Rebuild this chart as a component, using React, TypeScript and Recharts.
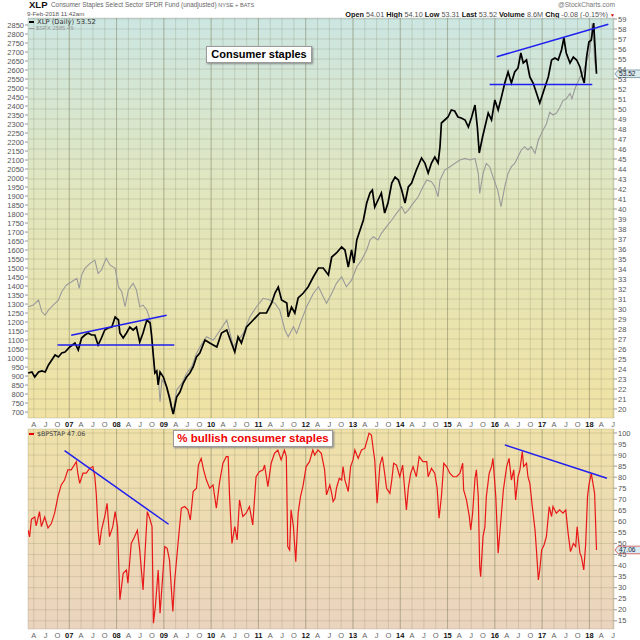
import React from "react";
import { CartesianGrid, Line, LineChart, ReferenceLine, XAxis, YAxis } from "recharts";

// XLP daily (unadjusted), sampled by eye from the chart
const xlpDates = [
  2006.13, 2006.21, 2006.27, 2006.35, 2006.42, 2006.49, 2006.56, 2006.63, 2006.7, 2006.77, 2006.84, 2006.91,
  2007.01, 2007.12, 2007.19, 2007.26, 2007.33, 2007.4, 2007.47, 2007.54, 2007.61, 2007.68, 2007.75, 2007.82,
  2007.9, 2007.97, 2008.04, 2008.07, 2008.14, 2008.21, 2008.28, 2008.35, 2008.42, 2008.49, 2008.56, 2008.64,
  2008.71, 2008.74, 2008.78, 2008.81, 2008.85, 2008.88, 2008.92, 2008.99, 2009.06, 2009.13, 2009.16, 2009.2,
  2009.27, 2009.34, 2009.41, 2009.48, 2009.55, 2009.62, 2009.69, 2009.76, 2009.87, 2009.97, 2010.12, 2010.22,
  2010.33, 2010.43, 2010.5, 2010.57, 2010.64, 2010.75, 2010.89, 2011.03, 2011.17, 2011.28, 2011.35, 2011.42,
  2011.49, 2011.6, 2011.63, 2011.7, 2011.77, 2011.84, 2011.95, 2012.05, 2012.16, 2012.27, 2012.37, 2012.48,
  2012.55, 2012.65, 2012.76, 2012.83, 2012.9, 2012.97, 2013.02, 2013.08, 2013.15, 2013.22, 2013.29, 2013.36,
  2013.41, 2013.46, 2013.53, 2013.6, 2013.67, 2013.74, 2013.82, 2013.89, 2013.96, 2014.03, 2014.1, 2014.17,
  2014.24, 2014.34, 2014.45, 2014.52, 2014.59, 2014.66, 2014.73, 2014.8, 2014.84, 2014.87, 2014.94, 2015.01,
  2015.08, 2015.15, 2015.22, 2015.29, 2015.37, 2015.44, 2015.51, 2015.58, 2015.63, 2015.67, 2015.74, 2015.79,
  2015.86, 2015.93, 2016.0, 2016.07, 2016.14, 2016.21, 2016.28, 2016.35, 2016.42, 2016.49, 2016.55, 2016.6,
  2016.67, 2016.74, 2016.81, 2016.88, 2016.95, 2017.06, 2017.13, 2017.2, 2017.27, 2017.34, 2017.41, 2017.46,
  2017.51, 2017.59, 2017.66, 2017.73, 2017.8, 2017.85, 2017.89, 2017.94, 2017.99, 2018.04, 2018.09, 2018.11,
  2018.15,
];
const xlpClose = [
  23.6, 23.7, 23.2, 23.7, 23.8, 23.7, 24.4, 24.9, 25.4, 25.2, 25.6, 25.7,
  26.2, 26.6, 25.9, 27.1, 27.4, 27.6, 27.4, 27.4, 26.4, 27.1, 27.9, 28.1,
  28.2, 29.2, 28.9, 27.6, 27.1, 27.6, 28.2, 27.9, 28.2, 26.7, 27.6, 28.9,
  28.6, 27.4, 25.2, 23.6, 23.8, 22.4, 23.7, 23.2, 22.2, 20.9, 20.2, 19.5,
  21.2, 21.7, 22.6, 23.2, 23.6, 24.2, 25.2, 25.6, 26.9, 26.6, 26.2, 27.6,
  27.9, 26.6, 25.7, 27.2, 26.6, 28.2, 28.9, 29.6, 29.6, 30.6, 31.6, 32.2,
  30.9, 30.6, 29.2, 30.2, 29.6, 31.1, 31.6, 32.2, 33.2, 34.1, 34.1, 33.4,
  35.2, 35.6, 36.2, 35.9, 34.2, 35.9, 34.6, 36.9, 37.9, 38.9, 40.6, 41.6,
  41.9, 40.2, 40.9, 41.6, 39.6, 40.6, 42.6, 43.2, 42.9, 41.9, 40.6, 42.2,
  42.6, 43.9, 45.1, 44.6, 43.6, 44.6, 45.2, 44.6, 46.2, 48.6, 48.9, 49.2,
  49.9, 49.8, 49.2, 49.1, 48.9, 48.2, 49.2, 50.4, 48.2, 45.6, 47.2, 48.2,
  49.6, 48.9, 50.9, 49.9, 51.2, 52.6, 53.7, 52.6, 53.7, 54.1, 55.6, 54.6,
  54.9, 53.2, 52.6, 51.6, 50.6, 52.2, 53.2, 54.9, 55.1, 54.9, 55.9, 57.1,
  55.6, 54.6, 55.2, 54.9, 54.2, 53.2, 52.6, 55.2, 56.7, 56.9, 58.6, 56.9,
  53.52,
];

// $SPX overlay
const spxDates = [
  2006.13, 2006.24, 2006.35, 2006.42, 2006.49, 2006.56, 2006.66, 2006.77, 2006.84, 2006.94, 2007.05, 2007.16,
  2007.21, 2007.26, 2007.33, 2007.44, 2007.54, 2007.61, 2007.68, 2007.78, 2007.86, 2007.97, 2008.04, 2008.11,
  2008.18, 2008.25, 2008.35, 2008.42, 2008.49, 2008.56, 2008.64, 2008.71, 2008.76, 2008.81, 2008.88, 2008.92,
  2008.96, 2009.06, 2009.13, 2009.19, 2009.27, 2009.38, 2009.48, 2009.59, 2009.69, 2009.76, 2009.9, 2010.05,
  2010.19, 2010.33, 2010.4, 2010.47, 2010.57, 2010.68, 2010.82, 2010.96, 2011.1, 2011.24, 2011.35, 2011.45,
  2011.56, 2011.63, 2011.74, 2011.81, 2011.91, 2012.02, 2012.16, 2012.27, 2012.37, 2012.44, 2012.55, 2012.65,
  2012.76, 2012.86, 2012.97, 2013.08, 2013.18, 2013.29, 2013.36, 2013.43, 2013.53, 2013.6, 2013.71, 2013.82,
  2013.92, 2014.03, 2014.1, 2014.17, 2014.27, 2014.38, 2014.48, 2014.56, 2014.66, 2014.73, 2014.8, 2014.84,
  2014.94, 2015.05, 2015.15, 2015.26, 2015.37, 2015.47, 2015.58, 2015.65, 2015.68, 2015.75, 2015.82, 2015.89,
  2015.96, 2016.06, 2016.13, 2016.21, 2016.28, 2016.35, 2016.42, 2016.49, 2016.56, 2016.63, 2016.7, 2016.77,
  2016.85, 2016.92, 2017.02, 2017.09, 2017.16, 2017.23, 2017.3, 2017.37, 2017.44, 2017.51, 2017.59, 2017.63,
  2017.7, 2017.8, 2017.87, 2017.94, 2018.01, 2018.06, 2018.09, 2018.11, 2018.15,
];
const spxClose = [
  1285, 1294, 1322, 1257, 1239, 1267, 1294, 1322, 1368, 1406, 1424, 1443,
  1387, 1461, 1498, 1526, 1544, 1470, 1489, 1554, 1517, 1498, 1396, 1368,
  1285, 1378, 1415, 1378, 1285, 1294, 1267, 1211, 1063, 933, 896, 757,
  880, 841, 785, 690, 822, 859, 915, 952, 1026, 1060, 1118, 1100,
  1156, 1211, 1137, 1063, 1100, 1137, 1230, 1285, 1332, 1322, 1304, 1267,
  1156, 1118, 1174, 1137, 1211, 1285, 1359, 1396, 1341, 1304, 1359, 1415,
  1452, 1396, 1433, 1507, 1544, 1600, 1656, 1674, 1656, 1693, 1730, 1767,
  1804, 1841, 1804, 1822, 1859, 1896, 1952, 1989, 1980, 1952, 1896, 1989,
  2044, 2063, 2081, 2100, 2109, 2100, 2109, 2026, 1915, 2026, 2081, 2063,
  2007, 1933, 1841, 1952, 2026, 2063, 2081, 2118, 2156, 2174, 2156, 2174,
  2137, 2211, 2267, 2300, 2365, 2350, 2360, 2390, 2430, 2440, 2470, 2440,
  2500, 2560, 2590, 2650, 2700, 2860, 2760, 2650, 2585,
];

// $BPSTAP bullish percent, consumer staples
const bpDates = [
  2006.13, 2006.16, 2006.2, 2006.27, 2006.3, 2006.37, 2006.41, 2006.48, 2006.55, 2006.62, 2006.69, 2006.76,
  2006.83, 2006.9, 2006.97, 2007.04, 2007.15, 2007.18, 2007.22, 2007.29, 2007.36, 2007.43, 2007.5, 2007.54,
  2007.57, 2007.61, 2007.64, 2007.68, 2007.75, 2007.8, 2007.85, 2007.92, 2007.97, 2008.02, 2008.07, 2008.14,
  2008.21, 2008.24, 2008.31, 2008.38, 2008.44, 2008.49, 2008.56, 2008.59, 2008.65, 2008.7, 2008.75, 2008.78,
  2008.82, 2008.88, 2008.92, 2008.97, 2009.02, 2009.07, 2009.12, 2009.19, 2009.23, 2009.3, 2009.37, 2009.44,
  2009.51, 2009.56, 2009.62, 2009.69, 2009.73, 2009.79, 2009.84, 2009.9, 2009.97, 2010.04, 2010.11, 2010.18,
  2010.25, 2010.32, 2010.36, 2010.39, 2010.44, 2010.5, 2010.55, 2010.6, 2010.67, 2010.74, 2010.81, 2010.88,
  2010.95, 2011.02, 2011.1, 2011.13, 2011.2, 2011.27, 2011.34, 2011.41, 2011.48, 2011.55, 2011.59, 2011.62,
  2011.66, 2011.69, 2011.74, 2011.79, 2011.84, 2011.89, 2011.94, 2012.01, 2012.08, 2012.15, 2012.19, 2012.26,
  2012.33, 2012.4, 2012.44, 2012.51, 2012.55, 2012.58, 2012.62, 2012.65, 2012.71, 2012.76, 2012.79, 2012.83,
  2012.9, 2012.95, 2013.0, 2013.04, 2013.11, 2013.18, 2013.25, 2013.34, 2013.39, 2013.43, 2013.46, 2013.51,
  2013.57, 2013.62, 2013.67, 2013.71, 2013.78, 2013.82, 2013.86, 2013.92, 2013.99, 2014.05, 2014.1, 2014.13,
  2014.17, 2014.22, 2014.27, 2014.34, 2014.4, 2014.48, 2014.56, 2014.59, 2014.66, 2014.73, 2014.78, 2014.82,
  2014.87, 2014.92, 2014.98, 2015.05, 2015.12, 2015.19, 2015.26, 2015.32, 2015.34, 2015.4, 2015.46, 2015.49,
  2015.53, 2015.58, 2015.61, 2015.65, 2015.68, 2015.7, 2015.75, 2015.79, 2015.82, 2015.88, 2015.93, 2015.96,
  2016.02, 2016.07, 2016.11, 2016.14, 2016.18, 2016.25, 2016.3, 2016.35, 2016.4, 2016.44, 2016.49, 2016.53,
  2016.58, 2016.61, 2016.67, 2016.7, 2016.74, 2016.8, 2016.85, 2016.88, 2016.92, 2016.95, 2016.99, 2017.04,
  2017.09, 2017.15, 2017.2, 2017.23, 2017.3, 2017.37, 2017.44, 2017.5, 2017.55, 2017.6, 2017.66, 2017.71,
  2017.74, 2017.8, 2017.83, 2017.88, 2017.92, 2017.96, 2017.99, 2018.04, 2018.08, 2018.11, 2018.15,
];
const bpValues = [
  56, 53, 61, 62, 58, 64.4, 57.6, 62, 57, 59, 63.7, 71.2,
  76.5, 78.7, 83.3, 83.3, 87, 81.8, 77.2, 81.8, 81.8, 84, 84.8, 80.2,
  72.7, 56.1, 49.3, 56, 62.2, 68.2, 53.1, 57.6, 64.4, 57.6, 24.5, 36.5,
  38, 32, 50, 53, 56, 47, 29, 41, 64.4, 61.4, 57.6, 13.9,
  21.4, 38, 18.4, 33.5, 48.6, 47.8, 42.5, 19.2, 33.5, 50, 66, 66.7,
  65.2, 60.6, 73.5, 75, 85.5, 88.5, 83.3, 78.7, 75, 76.5, 66, 78,
  86.3, 89.3, 89.3, 71.2, 50, 57.6, 51.6, 69.7, 62.2, 63.7, 66.7, 58.4,
  80.2, 82.5, 83.3, 85.5, 75.7, 86.3, 90.8, 92.3, 87.8, 92.3, 89.3, 48.6,
  47, 65.2, 57.6, 41.8, 63.7, 71.2, 75.7, 84.8, 87, 92.3, 90, 92.3,
  90.8, 83.3, 72, 76.5, 72.7, 69, 70.4, 75, 79.5, 78.7, 84.8, 78.7,
  73.5, 84.8, 87.8, 92.3, 88.5, 92.3, 93, 99.9, 99.1, 92.3, 87.8, 68.2,
  85.5, 89.3, 81.7, 75, 72.7, 78.7, 86.3, 85.5, 80.2, 85.5, 72.7, 65.2,
  75, 81.7, 84.8, 80.2, 89.3, 87, 87, 80.2, 84, 81.7, 75, 61.4,
  71.2, 86.3, 84.8, 81.7, 80.2, 80.2, 81.7, 86.3, 74.2, 69.7, 62.2, 56.1,
  63.7, 79.5, 83.3, 71.2, 39.5, 35, 53.1, 57.6, 71.2, 81.7, 84.8, 88.5,
  71.2, 45.6, 56.1, 63.7, 74.2, 84.8, 88.5, 78.7, 83.3, 69.7, 80.2, 83.3,
  91.6, 84.8, 86.3, 80.2, 77.2, 65.2, 56.1, 47, 33.5, 38, 47, 49.3,
  53.1, 66.7, 62.2, 66.7, 63.7, 65.2, 63.7, 65.2, 54.6, 46.3, 50, 48.6,
  57.6, 45.6, 44, 38, 49.3, 71.2, 76.5, 81.7, 76.5, 72.7, 47.06,
];

// hand-drawn trend lines: [fromDate, fromValue, toDate, toValue]
const xlpTrends = [
  [2007.04, 27.37, 2009.06, 29.37],
  [2006.75, 26.4, 2009.22, 26.4],
  [2016.04, 55.23, 2018.4, 58.47],
  [2015.89, 52.45, 2018.06, 52.45],
];
const bpTrends = [
  [2006.9, 92, 2009.1, 58.7],
  [2016.21, 94.6, 2018.37, 79.5],
];

const yearLabels = ["06", "07", "08", "09", "10", "11", "12", "13", "14", "15", "16", "17", "18"];
const quarterLabels = ["", "A", "J", "O"];
const spxTicks = Array.from({ length: 44 }, (_, i) => 700 + i * 50);
const xlpTicks = Array.from({ length: 40 }, (_, i) => 20 + i);
const bpTicks = Array.from({ length: 18 }, (_, i) => 15 + i * 5);

const X_DOMAIN: [number, number] = [2006.127, 2018.52];
const quarterTicks: number[] = [];
yearLabels.forEach((_, i) => {
  quarterLabels.forEach((__, q) => {
    const t = 2006 + i + q / 4;
    if (t > X_DOMAIN[0] && t < X_DOMAIN[1]) quarterTicks.push(t);
  });
});
const yearTicks = quarterTicks.filter((t) => Math.abs(t - Math.round(t)) < 1e-6);

const xlpData = xlpDates.map((t, i) => ({ t, v: xlpClose[i] }));
const spxData = spxDates.map((t, i) => ({ t, v: spxClose[i] }));
const bpData = bpDates.map((t, i) => ({ t, v: bpValues[i] }));

const FONT = '"Liberation Sans", Arial, sans-serif';
const GRID = "#7a7a5a";
const TREND = "#1f1fef";

function QuarterTick({ x, y, payload }: any) {
  const v: number = payload.value;
  const yr = Math.floor(v + 1e-6);
  const q = Math.round((v - yr) * 4);
  const isYear = q === 0;
  return (
    <text
      x={x}
      y={y + 9}
      textAnchor="middle"
      fontSize={7.5}
      fontFamily={FONT}
      fontWeight={isYear ? 700 : 400}
      fill={isYear ? "#111" : "#666"}
    >
      {isYear ? yearLabels[yr - 2006] : quarterLabels[q]}
    </text>
  );
}

// last-value flag drawn on top of the right axis
function ValueTag({ viewBox, text, fill, stroke, color }: any) {
  const x = viewBox.x + viewBox.width + 1;
  const y = viewBox.y;
  return (
    <g>
      <path d={`M${x} ${y} L${x + 3} ${y - 3.8} H${x + 30} V${y + 3.8} H${x + 3} Z`} fill={fill} stroke={stroke} strokeWidth={0.8} />
      <text x={x + 4} y={y + 2.3} fontSize={6.6} fontFamily={FONT} fill={color}>
        {text}
      </text>
    </g>
  );
}

const axisTick = { fontSize: 7.5, fill: "#555", fontFamily: FONT };

export default function App() {
  return (
    <div style={{ position: "absolute", left: 0, top: 0, width: 640, height: 640, background: "#fff", overflow: "hidden", fontFamily: FONT }}>
      {/* header */}
      <div style={{ position: "absolute", left: 29, top: -1, fontSize: 9.5, fontWeight: 700, color: "#111" }}>XLP</div>
      <div style={{ position: "absolute", left: 51, top: 1, fontSize: 6.4, color: "#666", whiteSpace: "nowrap" }}>
        Consumer Staples Select Sector SPDR Fund (unadjusted) <span style={{ fontSize: 5.6 }}>NYSE + BATS</span>
      </div>
      <div style={{ position: "absolute", left: 27, top: 10, fontSize: 6.2, color: "#555" }}>9-Feb-2018 11:42am</div>
      <div style={{ position: "absolute", left: 558, top: 1, fontSize: 6.6, color: "#777" }}>@StockCharts.com</div>
      <div style={{ position: "absolute", right: 25, top: 10, fontSize: 7.3, color: "#555", whiteSpace: "nowrap" }}>
        <b style={{ color: "#111" }}>Open</b> 54.01 <b style={{ color: "#111" }}>High</b> 54.10{" "}
        <b style={{ color: "#111" }}>Low</b> 53.31 <b style={{ color: "#111" }}>Last</b> 53.52{" "}
        <b style={{ color: "#111" }}>Volume</b> 8.6M <b style={{ color: "#111" }}>Chg</b> -0.08 (-0.15%){" "}
        <span style={{ color: "#c00", fontSize: 5 }}>▼</span>
      </div>

      {/* price panel */}
      <div style={{ position: "absolute", left: 0, top: 0 }}>
        <LineChart width={640} height={429} margin={{ top: 18, right: 0, bottom: 0, left: 0 }}>
          <defs>
            <linearGradient id="topBg" x1="0" y1="0" x2="0" y2="1">
              <stop offset="0" stopColor="#cce6e2" />
              <stop offset="0.45" stopColor="#e1e6bd" />
              <stop offset="1" stopColor="#f0e2a4" />
            </linearGradient>
          </defs>
          <CartesianGrid yAxisId="right" fill="url(#topBg)" fillOpacity={1} stroke={GRID} strokeOpacity={0.22} />
          <XAxis
            dataKey="t"
            type="number"
            domain={X_DOMAIN}
            allowDataOverflow
            ticks={quarterTicks}
            interval={0}
            height={11}
            tickLine={false}
            axisLine={false}
            tickSize={0}
            tickMargin={0}
            tick={<QuarterTick />}
          />
          <YAxis
            yAxisId="left"
            orientation="left"
            width={28}
            domain={[667, 2889]}
            allowDataOverflow
            ticks={spxTicks}
            interval={0}
            axisLine={false}
            tickSize={3}
            tickMargin={1}
            tickLine={{ stroke: "#999" }}
            tick={axisTick}
          />
          <YAxis
            yAxisId="right"
            orientation="right"
            width={26}
            domain={[19.1, 59.1]}
            allowDataOverflow
            ticks={xlpTicks}
            interval={0}
            axisLine={false}
            tickSize={3}
            tickMargin={1}
            tickLine={{ stroke: "#999" }}
            tick={axisTick}
          />
          {yearTicks.map((t) => (
            <ReferenceLine key={t} yAxisId="right" x={t} stroke={GRID} strokeOpacity={0.35} />
          ))}
          <Line yAxisId="left" data={spxData} dataKey="v" stroke="#9a9a9a" strokeWidth={1.1} dot={false} isAnimationActive={false} />
          <Line yAxisId="right" data={xlpData} dataKey="v" stroke="#000" strokeWidth={1.7} dot={false} isAnimationActive={false} />
          {xlpTrends.map(([x1, y1, x2, y2], i) => (
            <ReferenceLine
              key={i}
              yAxisId="right"
              segment={[{ x: x1, y: y1 }, { x: x2, y: y2 }]}
              stroke={TREND}
              strokeWidth={1.5}
              ifOverflow="visible"
            />
          ))}
          <ReferenceLine
            yAxisId="right"
            y={xlpClose[xlpClose.length - 1]}
            stroke="none"
            label={(p: any) => <ValueTag viewBox={p.viewBox} text="53.52" fill="#dcebec" stroke="#6d8b9c" color="#223" />}
          />
        </LineChart>
      </div>

      {/* breadth panel */}
      <div style={{ position: "absolute", left: 0, top: 420 }}>
        <LineChart width={640} height={220} margin={{ top: 9, right: 0, bottom: 0, left: 28 }}>
          <defs>
            <linearGradient id="botBg" x1="0" y1="0" x2="0" y2="1">
              <stop offset="0" stopColor="#efe1a9" />
              <stop offset="1" stopColor="#ebd4bf" />
            </linearGradient>
          </defs>
          <CartesianGrid fill="url(#botBg)" fillOpacity={1} stroke={GRID} strokeOpacity={0.22} />
          <XAxis
            dataKey="t"
            type="number"
            domain={X_DOMAIN}
            allowDataOverflow
            ticks={quarterTicks}
            interval={0}
            height={11}
            tickLine={false}
            axisLine={false}
            tickSize={0}
            tickMargin={0}
            tick={<QuarterTick />}
          />
          <YAxis
            orientation="right"
            width={26}
            domain={[11.3, 101.8]}
            allowDataOverflow
            ticks={bpTicks}
            interval={0}
            axisLine={false}
            tickSize={3}
            tickMargin={1}
            tickLine={{ stroke: "#999" }}
            tick={axisTick}
          />
          {yearTicks.map((t) => (
            <ReferenceLine key={t} x={t} stroke={GRID} strokeOpacity={0.35} />
          ))}
          <Line data={bpData} dataKey="v" stroke="#e81818" strokeWidth={1.2} dot={false} isAnimationActive={false} />
          {bpTrends.map(([x1, y1, x2, y2], i) => (
            <ReferenceLine
              key={i}
              segment={[{ x: x1, y: y1 }, { x: x2, y: y2 }]}
              stroke={TREND}
              strokeWidth={1.5}
              ifOverflow="visible"
            />
          ))}
          <ReferenceLine
            y={bpValues[bpValues.length - 1]}
            stroke="none"
            label={(p: any) => <ValueTag viewBox={p.viewBox} text="47.06" fill="#d9ecf3" stroke="#d24a4a" color="#123" />}
          />
        </LineChart>
      </div>

      {/* legends */}
      <div style={{ position: "absolute", left: 29, top: 18, fontFamily: '"DejaVu Sans", sans-serif', fontSize: 6.8, color: "#333", whiteSpace: "nowrap" }}>
        <span style={{ display: "inline-block", width: 5, height: 2, background: "#000", verticalAlign: "middle", marginRight: 3 }} />
        XLP (Daily) 53.52
      </div>
      <div style={{ position: "absolute", left: 29, top: 25, fontSize: 5.8, color: "#999", whiteSpace: "nowrap" }}>
        <span style={{ display: "inline-block", width: 5, height: 1.5, background: "#999", verticalAlign: "middle", marginRight: 2 }} />
        $SPX 2585.49
      </div>
      <div style={{ position: "absolute", left: 29, top: 430, fontFamily: '"DejaVu Sans", sans-serif', fontSize: 6.4, color: "#444", whiteSpace: "nowrap" }}>
        <span style={{ display: "inline-block", width: 5, height: 2, background: "#e00", verticalAlign: "middle", marginRight: 3 }} />
        $BPSTAP 47.06
      </div>

      {/* annotation boxes */}
      <div
        style={{
          position: "absolute",
          left: 206,
          top: 46,
          width: 106,
          height: 17,
          boxSizing: "border-box",
          background: "#fff",
          border: "1px solid #9a9a9a",
          boxShadow: "1px 1px 2px #888",
          fontSize: 11,
          fontWeight: 700,
          color: "#000",
          lineHeight: "15px",
          textAlign: "center",
          whiteSpace: "nowrap",
        }}
      >
        Consumer staples
      </div>
      <div
        style={{
          position: "absolute",
          left: 173,
          top: 430,
          width: 160,
          height: 17,
          boxSizing: "border-box",
          background: "#fff",
          border: "1px solid #9a9a9a",
          boxShadow: "1px 1px 2px #888",
          fontSize: 11.5,
          fontWeight: 700,
          color: "#ee0000",
          lineHeight: "15px",
          textAlign: "center",
          whiteSpace: "nowrap",
        }}
      >
        % bullish consumer staples
      </div>
    </div>
  );
}
